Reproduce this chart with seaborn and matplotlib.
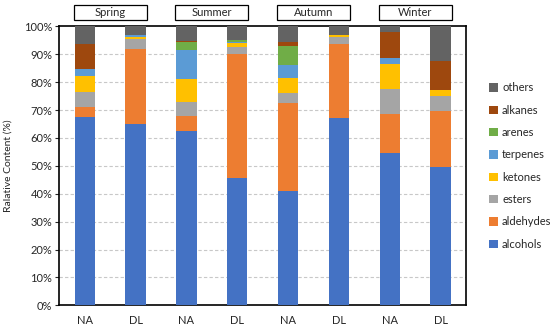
import matplotlib
matplotlib.use("Agg")
import matplotlib.pyplot as plt
import seaborn as sns
import pandas as pd
import numpy as np
from matplotlib.patches import Rectangle

seasons = ["Spring", "Summer", "Autumn", "Winter"]
sites = ["NA", "DL"]
groups = ["alcohols", "aldehydes", "esters", "ketones", "terpenes", "arenes", "alkanes", "others"]
colors = ["#4472C4", "#ED7D31", "#A5A5A5", "#FFC000", "#5B9BD5", "#70AD47", "#9E480E", "#636363"]

# values per bar (order: Spring NA, Spring DL, Summer NA, Summer DL, Autumn NA, Autumn DL, Winter NA, Winter DL)
alcohols  = [67.6, 65.0, 62.5, 45.5, 41.0, 67.2, 54.7, 49.5]
aldehydes = [3.5, 26.8, 5.5, 44.7, 31.4, 26.3, 14.0, 20.2]
esters    = [5.5, 3.5, 4.9, 2.3, 3.6, 2.8, 8.8, 5.3]
ketones   = [5.7, 0.8, 8.1, 1.4, 5.4, 0.5, 9.1, 2.0]
terpenes  = [2.3, 0.7, 10.6, 0.5, 4.6, 0.0, 2.2, 0.0]
arenes    = [0.0, 0.0, 2.8, 0.7, 7.1, 0.0, 0.0, 0.3]
alkanes   = [9.2, 0.0, 0.3, 0.0, 1.2, 0.0, 9.2, 10.4]
others    = [6.2, 3.2, 5.3, 4.9, 5.7, 3.2, 2.0, 12.3]

series = [alcohols, aldehydes, esters, ketones, terpenes, arenes, alkanes, others]
bar_ids = [f"{s} {t}" for s in seasons for t in sites]
tick_labels = [t for s in seasons for t in sites]

sns.set_style("white")
plt.rcParams["font.family"] = ["Lato", "DejaVu Sans"]

df = pd.DataFrame({"bar": bar_ids})
cum = np.zeros(len(bar_ids))
for name, vals in zip(groups, series):
    cum = cum + np.array(vals)
    df[name] = cum.copy()

fig = plt.figure(figsize=(5.5, 3.28), dpi=100)
ax = fig.add_axes([0.1078, 0.0692, 0.7395, 0.8506])

for name, col in reversed(list(zip(groups, colors))):
    sns.barplot(data=df, x="bar", y=name, color=col, width=0.4, ax=ax,
                linewidth=0, saturation=1, zorder=3, label=name, order=bar_ids)

ax.set_xlim(-0.5, 7.5)
ax.set_ylim(0, 100)
ax.set_yticks(np.arange(0, 101, 10))
ax.set_yticklabels([f"{v}%" for v in range(0, 101, 10)], fontsize=8)
ax.set_xticks(range(len(bar_ids)))
ax.set_xticklabels(tick_labels, fontsize=8)
ax.set_xlabel("")
ax.set_ylabel("Ralative Content (%)", fontsize=7.5, labelpad=8)
ax.tick_params(axis="y", direction="out", length=3, width=0.8, pad=2, left=True)
ax.tick_params(axis="x", length=0, pad=7)
for y in range(10, 100, 10):
    ax.axhline(y, color="#C8C8C8", linestyle=(0, (3, 2)), linewidth=0.8, zorder=1)
for sp in ax.spines.values():
    sp.set_visible(True)
    sp.set_color("black")
    sp.set_linewidth(1.2)

trans = ax.get_xaxis_transform()
for i, s in enumerate(seasons):
    x0 = 2 * i - 0.22
    r = Rectangle((x0, 1.0226), 1.44, 0.0535, transform=trans, clip_on=False,
                  facecolor="white", edgecolor="black", linewidth=0.9)
    ax.add_patch(r)
    ax.text(2 * i + 0.5, 1.049, s, transform=trans, ha="center", va="center", fontsize=8)

handles, labels = ax.get_legend_handles_labels()
leg = ax.legend(handles, labels, loc="upper left", bbox_to_anchor=(1.045, 0.815),
                frameon=False, fontsize=8, handlelength=0.8, handleheight=0.8,
                handletextpad=0.4, labelspacing=1.02, borderaxespad=0)

fig.savefig("out.png", dpi=100)
